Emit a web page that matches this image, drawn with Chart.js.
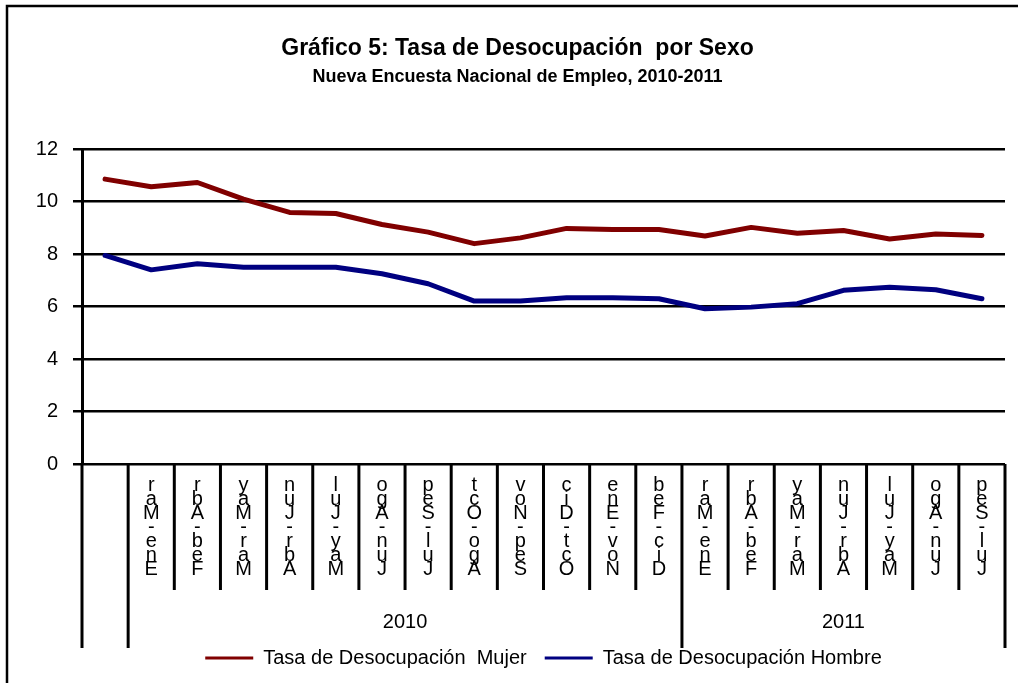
<!DOCTYPE html>
<html lang="es">
<head>
<meta charset="utf-8">
<title>Gráfico 5: Tasa de Desocupación por Sexo</title>
<script src="https://cdn.jsdelivr.net/npm/chart.js@4.4.1/dist/chart.umd.min.js"></script>
<style>
  html, body { margin: 0; padding: 0; background: #fff; }
  #wrap { width: 1018px; height: 683px; position: relative; }
</style>
</head>
<body>
<div id="wrap"><canvas id="chart"></canvas></div>
<script>
// Trimestres moviles (the first one has no label in the original)
const periodos = ['', 'Ene-Mar', 'Feb-Abr', 'Mar-May', 'Abr-Jun', 'May-Jul', 'Jun-Ago',
  'Jul-Sep', 'Ago-Oct', 'Sep-Nov', 'Oct-Dic', 'Nov-Ene', 'Dic-Feb',
  'Ene-Mar', 'Feb-Abr', 'Mar-May', 'Abr-Jun', 'May-Jul', 'Jun-Ago', 'Jul-Sep'];

const tasaMujer = [10.86, 10.57, 10.73, 10.1, 9.59, 9.55, 9.13, 8.84, 8.4, 8.62,
  8.98, 8.94, 8.94, 8.69, 9.02, 8.8, 8.9, 8.58, 8.77, 8.71];
const tasaHombre = [7.95, 7.4, 7.63, 7.5, 7.5, 7.5, 7.25, 6.87, 6.21, 6.21,
  6.34, 6.34, 6.3, 5.92, 5.98, 6.11, 6.62, 6.74, 6.64, 6.3];

const yTicks = [0, 2, 4, 6, 8, 10, 12];

// Year groups under the axis: label, first and last period index
const anios = ['', '2010', '2011'];
const anioDesde = [0, 1, 13];
const anioHasta = [0, 12, 19];

const FONT = '"Liberation Sans", Arial, sans-serif';
Chart.defaults.font.family = FONT;
Chart.defaults.color = '#000';

// Frame, category separators and year labels
const separadores = {
  id: 'separadores',
  beforeDraw(chart) {
    const ctx = chart.ctx;
    ctx.save();
    ctx.strokeStyle = '#000';
    ctx.lineWidth = 2.5;
    ctx.strokeRect(7, 6, chart.width + 40, chart.height + 40);
    ctx.restore();
  },
  afterDraw(chart) {
    const ctx = chart.ctx;
    const x = chart.scales.x;
    const base = chart.chartArea.bottom;
    const half = (x.getPixelForValue(1) - x.getPixelForValue(0)) / 2;

    ctx.save();
    ctx.strokeStyle = '#000';
    ctx.lineWidth = 3;
    for (let i = 0; i <= periodos.length; i++) {
      const px = x.getPixelForValue(i) - half;
      const limite = anioDesde.includes(i) || i === periodos.length;
      ctx.beginPath();
      ctx.moveTo(px, base);
      ctx.lineTo(px, base + (limite ? 184 : 126));
      ctx.stroke();
    }

    ctx.font = '20px ' + FONT;
    ctx.fillStyle = '#000';
    ctx.textAlign = 'center';
    ctx.textBaseline = 'middle';
    anios.forEach((anio, k) => {
      if (!anio) return;
      const mid = (x.getPixelForValue(anioDesde[k]) + x.getPixelForValue(anioHasta[k])) / 2;
      ctx.fillText(anio, mid, base + 158);
    });
    ctx.restore();
  }
};

const ctx = document.getElementById('chart').getContext('2d');
new Chart(ctx, {
  type: 'line',
  data: {
    // the original shows each label as stacked characters, last one on top
    labels: periodos.map(p => p ? p.split('').reverse() : ''),
    datasets: [{
      label: 'Tasa de Desocupación  Mujer',
      data: tasaMujer,
      borderColor: '#800000',
      backgroundColor: '#800000',
      borderWidth: 5,
      pointRadius: 0,
      tension: 0,
      borderCapStyle: 'round',
      borderJoinStyle: 'round'
    }, {
      label: 'Tasa de Desocupación Hombre',
      data: tasaHombre,
      borderColor: '#000080',
      backgroundColor: '#000080',
      borderWidth: 5,
      pointRadius: 0,
      tension: 0,
      borderCapStyle: 'round',
      borderJoinStyle: 'round'
    }]
  },
  options: {
    responsive: true,
    maintainAspectRatio: false,
    animation: false,
    layout: { padding: { top: 0, left: 30, right: 13, bottom: 5 } },
    plugins: {
      title: {
        display: true,
        text: 'Gráfico 5: Tasa de Desocupación  por Sexo',
        color: '#000',
        font: { size: 23, weight: 'bold' },
        padding: { top: 35, bottom: 4 }
      },
      subtitle: {
        display: true,
        text: 'Nueva Encuesta Nacional de Empleo, 2010-2011',
        color: '#000',
        font: { size: 18, weight: 'bold' },
        padding: { top: 0, bottom: 61 }
      },
      legend: {
        position: 'bottom',
        fullSize: false,
        labels: {
          usePointStyle: true,
          pointStyle: 'line',
          pointStyleWidth: 48,
          padding: 18,
          color: '#000',
          font: { size: 20 },
          generateLabels(chart) {
            const items = Chart.defaults.plugins.legend.labels.generateLabels(chart);
            items.forEach(it => { it.lineWidth = 3; it.pointStyle = 'line'; });
            return items;
          }
        }
      },
      tooltip: { enabled: false }
    },
    scales: {
      x: {
        offset: true,
        grid: { display: false, drawTicks: false },
        border: { display: false },
        ticks: {
          autoSkip: false,
          maxRotation: 0,
          minRotation: 0,
          padding: 14,
          color: '#000',
          font: { size: 20, lineHeight: 0.7 }
        },
        afterFit(scale) { scale.height = 166; }
      },
      y: {
        min: yTicks[0],
        max: yTicks[yTicks.length - 1],
        afterBuildTicks(scale) { scale.ticks = yTicks.map(v => ({ value: v })); },
        grid: { color: '#000', lineWidth: 2.5, tickLength: 9, tickColor: '#000', tickWidth: 2.5 },
        border: { color: '#000', width: 3 },
        ticks: { padding: 15, color: '#000', font: { size: 20 } },
        afterFit(scale) { scale.width = 52; }
      }
    }
  },
  plugins: [separadores]
});
</script>
</body>
</html>
